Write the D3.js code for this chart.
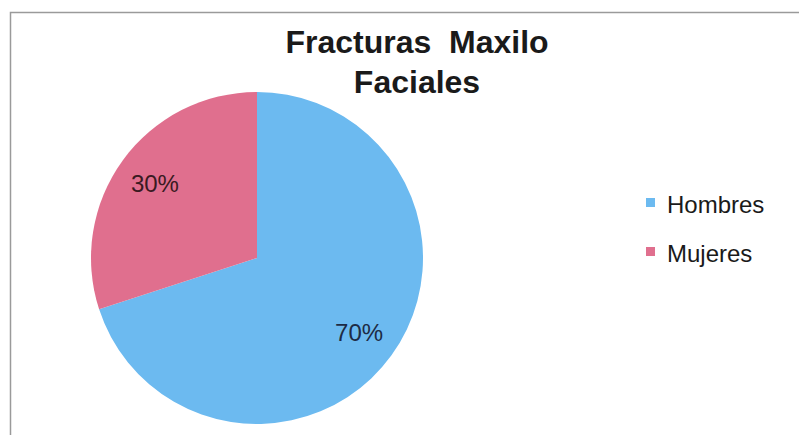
<!DOCTYPE html>
<html>
<head>
<meta charset="utf-8">
<script src="https://cdn.jsdelivr.net/npm/d3@7"></script>
<style>
  html, body { margin: 0; padding: 0; background: #ffffff; }
  svg { display: block; }
</style>
</head>
<body>
<svg id="chart" width="799" height="435"></svg>
<script>
const categories = ["Hombres", "Mujeres"];
const values = [70, 30];
const colors = ["#6cbaf0", "#e06f8e"];
const titleLines = ["Fracturas  Maxilo", "Faciales"];

const svg = d3.select("#chart");
const W = 799, H = 435;

// frame
svg.append("rect")
  .attr("x", 10.5).attr("y", 12.5)
  .attr("width", W + 10).attr("height", H + 10)
  .attr("fill", "#ffffff")
  .attr("stroke", "#9a9a9a").attr("stroke-width", 1.5);

// title
const title = svg.append("text")
  .attr("text-anchor", "middle")
  .attr("font-family", "Liberation Sans, Arial, sans-serif")
  .attr("font-weight", "bold")
  .attr("font-size", 32)
  .attr("fill", "#1a1a1a");
titleLines.forEach((t, i) => {
  title.append("tspan")
    .attr("x", 417)
    .attr("y", 53 + i * 40)
    .attr("xml:space", "preserve")
    .style("white-space", "pre")
    .text(t);
});

// pie
const cx = 257, cy = 258, r = 166;
const pie = d3.pie().sort(null).value(d => d)(values);
const arc = d3.arc().innerRadius(0).outerRadius(r);
const color = d3.scaleOrdinal().domain(categories).range(colors);

const g = svg.append("g").attr("transform", `translate(${cx},${cy})`);
g.selectAll("path")
  .data(pie)
  .join("path")
  .attr("d", arc)
  .attr("fill", (d, i) => color(categories[i]));

const labelArc = d3.arc().innerRadius(r * 0.76).outerRadius(r * 0.76);
const total = d3.sum(values);
g.selectAll("text.lbl")
  .data(pie)
  .join("text")
  .attr("class", "lbl")
  .attr("transform", d => {
    const [x, y] = labelArc.centroid(d);
    return `translate(${x},${y})`;
  })
  .attr("text-anchor", "middle")
  .attr("dy", "0.35em")
  .attr("font-family", "Liberation Sans, Arial, sans-serif")
  .attr("font-size", 24)
  .attr("fill", (d, i) => i === 0 ? "#1d2b45" : "#3a1a22")
  .text(d => Math.round(d.value / total * 100) + "%");

// legend
const leg = svg.append("g").attr("transform", "translate(646,198)");
const items = leg.selectAll("g")
  .data(categories)
  .join("g")
  .attr("transform", (d, i) => `translate(0,${i * 49})`);
items.append("rect")
  .attr("x", 0).attr("y", 0)
  .attr("width", 9).attr("height", 9)
  .attr("fill", d => color(d));
items.append("text")
  .attr("x", 21).attr("y", 15)
  .attr("font-family", "Liberation Sans, Arial, sans-serif")
  .attr("font-size", 24)
  .attr("fill", "#1a1a1a")
  .text(d => d);
</script>
</body>
</html>
